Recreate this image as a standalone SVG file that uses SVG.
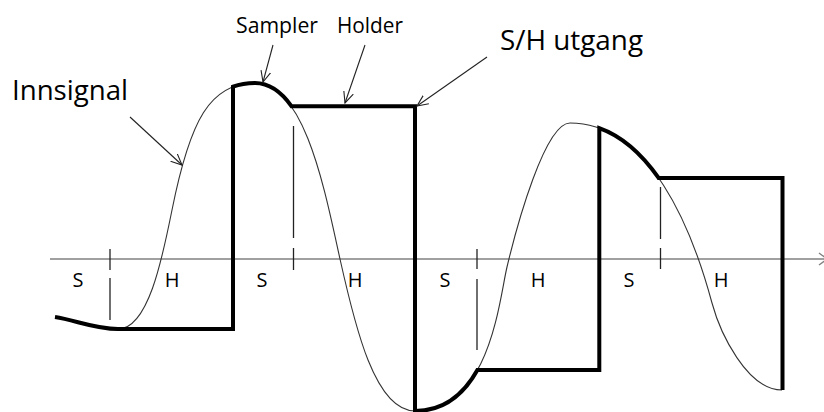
<svg xmlns="http://www.w3.org/2000/svg" width="824" height="412" viewBox="0 0 824 412">
  <style>
    .lbl { font-family: "Open Sans", "Noto Sans", sans-serif; fill: #000; }
    .ax { font-family: "Open Sans", "Noto Sans", sans-serif; fill: #000; font-size: 20px; text-anchor: middle; }
    .thin { fill: none; stroke: #333; stroke-width: 1.1; }
    .thick { fill: none; stroke: #000; stroke-width: 4; stroke-linejoin: miter; }
    .mark { stroke: #222; stroke-width: 1.3; }
    .arrow { fill: none; stroke: #222; stroke-width: 1.1; marker-end: url(#head); }
  </style>
  <defs>
    <marker id="head" viewBox="0 0 12 12" refX="11" refY="6" markerWidth="12" markerHeight="12" markerUnits="userSpaceOnUse" orient="auto">
      <path d="M0,1 L11,6 L0,11" fill="none" stroke="#222" stroke-width="1.1"/>
    </marker>
  </defs>
  <rect width="824" height="412" fill="#fff"/>

  <g id="axis">
    <line x1="50" y1="259" x2="824" y2="259" stroke="#808080" stroke-width="1.6"/>
    <path d="M819,253 L827,259 L819,265" fill="none" stroke="#808080" stroke-width="1.4"/>
  </g>

  <g id="markers">
    <line class="mark" x1="110" y1="249" x2="110" y2="270"/>
    <line class="mark" x1="110" y1="278" x2="110" y2="320"/>
    <line class="mark" x1="293.5" y1="126" x2="293.5" y2="238"/>
    <line class="mark" x1="293.5" y1="248" x2="293.5" y2="270"/>
    <line class="mark" x1="477" y1="249" x2="477" y2="269"/>
    <line class="mark" x1="477" y1="279" x2="477" y2="350"/>
    <line class="mark" x1="660.5" y1="187" x2="660.5" y2="239"/>
    <line class="mark" x1="660.5" y1="248" x2="660.5" y2="269"/>
  </g>

  <g id="innsignal-curve">
    <path class="thin" d="M55,317 C75,320 95,329 118,329 C148,329 162,260 172,210 C190,120 210,83 255,83 C305,83 325,191.5 340,259 C355,326.5 375,411 415,411 C490,411 499,300.6 507,267 C517,225 545,123 570,123 C650,123 692,229 712,303 C720,332.6 747,390 782,390"/>
  </g>

  <g id="sh-output">
    <path class="thick" d="M55,317 C75,320 95,329 118,329 L233,329 L233,86.7 C239.6,84.2 246.9,83 255,83 C269.5,83 281.5,92.1 291.6,106.3 L415,106.3 L415,411 C445,411 464.4,393.3 477.4,370 L599.3,370 L599.3,128.1 C622.9,136.5 642.4,154.9 658.6,177.9 L782.5,177.9 L782.5,390"/>
  </g>

  <g id="phase-labels">
    <text class="ax" x="78" y="287">S</text>
    <text class="ax" x="172" y="287">H</text>
    <text class="ax" x="262" y="287">S</text>
    <text class="ax" x="355" y="287">H</text>
    <text class="ax" x="445" y="287">S</text>
    <text class="ax" x="538" y="287">H</text>
    <text class="ax" x="629" y="287">S</text>
    <text class="ax" x="721" y="287">H</text>
  </g>

  <g id="label-innsignal">
    <text class="lbl" x="12" y="100" font-size="27" textLength="116" lengthAdjust="spacingAndGlyphs">Innsignal</text>
  </g>
  <g id="label-sampler">
    <text class="lbl" x="236" y="33" font-size="21" textLength="82" lengthAdjust="spacingAndGlyphs">Sampler</text>
  </g>
  <g id="label-holder">
    <text class="lbl" x="337" y="33" font-size="21" textLength="66" lengthAdjust="spacingAndGlyphs">Holder</text>
  </g>
  <g id="label-sh">
    <text class="lbl" x="500" y="50" font-size="28" textLength="143" lengthAdjust="spacingAndGlyphs">S/H utgang</text>
  </g>

  <g id="connectors">
    <line class="arrow" x1="130" y1="117" x2="182" y2="165"/>
    <line class="arrow" x1="273" y1="45" x2="263" y2="82"/>
    <line class="arrow" x1="365" y1="45" x2="345" y2="103"/>
    <line class="arrow" x1="487" y1="57" x2="417" y2="106"/>
  </g>
</svg>
